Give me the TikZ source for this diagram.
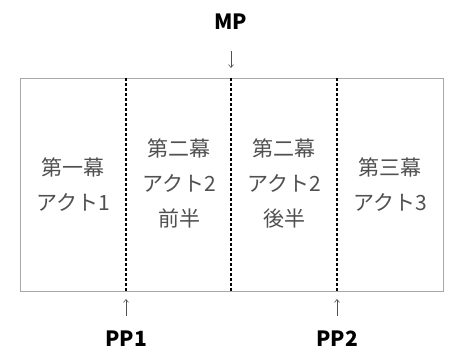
\documentclass[tikz,border=0pt]{standalone}
\usepackage{fontspec}
\setmainfont{Noto Sans CJK JP}
\newfontfamily\cjk{Noto Sans CJK JP}
\usetikzlibrary{arrows.meta}
\definecolor{txtgray}{HTML}{505050}
\definecolor{boxgray}{HTML}{A8A8A8}
\tikzset{
  cell/.style={text=txtgray, font=\cjk\fontsize{21}{35}\selectfont, align=center, inner sep=0pt},
  lab/.style={font=\cjk\bfseries\fontsize{21}{24}\selectfont, text=black, inner sep=0pt},
  divider/.style={draw=black, line width=1.4pt, dash pattern=on 3pt off 2pt},
  pointer/.style={draw=txtgray, line width=0.6pt, -{Straight Barb[length=3pt,width=5pt]}},
}
\begin{document}
\begin{tikzpicture}[x=1pt,y=-1pt]
\useasboundingbox (0,0) rectangle (449,351);
\fill[white] (0,0) rectangle (449,351);
\draw[boxgray, line width=1pt] (20,78) rectangle (443,291);
\coordinate (t1) at (126,78); \coordinate (b1) at (126,291);
\coordinate (t2) at (231,78); \coordinate (b2) at (231,291);
\coordinate (t3) at (337,78); \coordinate (b3) at (337,291);
\draw[divider] (t1) -- (b1);
\draw[divider] (t2) -- (b2);
\draw[divider] (t3) -- (b3);
\node[cell] (c1) at (73,185) {第一幕\\アクト1};
\node[cell] (c2) at (179,183) {第二幕\\アクト2\\前半};
\node[cell] (c3) at (284,183) {第二幕\\アクト2\\後半};
\node[cell] (c4) at (390,185) {第三幕\\アクト3};
\node[lab] (mp) at (231,22) {MP};
\node[lab] (pp1) at (126,339) {PP1};
\node[lab] (pp2) at (337,339) {PP2};
\coordinate (mpa) at (231,51); \coordinate (mpb) at (231,68);
\coordinate (p1a) at (126,316); \coordinate (p1b) at (126,299);
\coordinate (p2a) at (337,316); \coordinate (p2b) at (337,299);
\draw[pointer] (mpa) -- (mpb);
\draw[pointer] (p1a) -- (p1b);
\draw[pointer] (p2a) -- (p2b);
\end{tikzpicture}
\end{document}
